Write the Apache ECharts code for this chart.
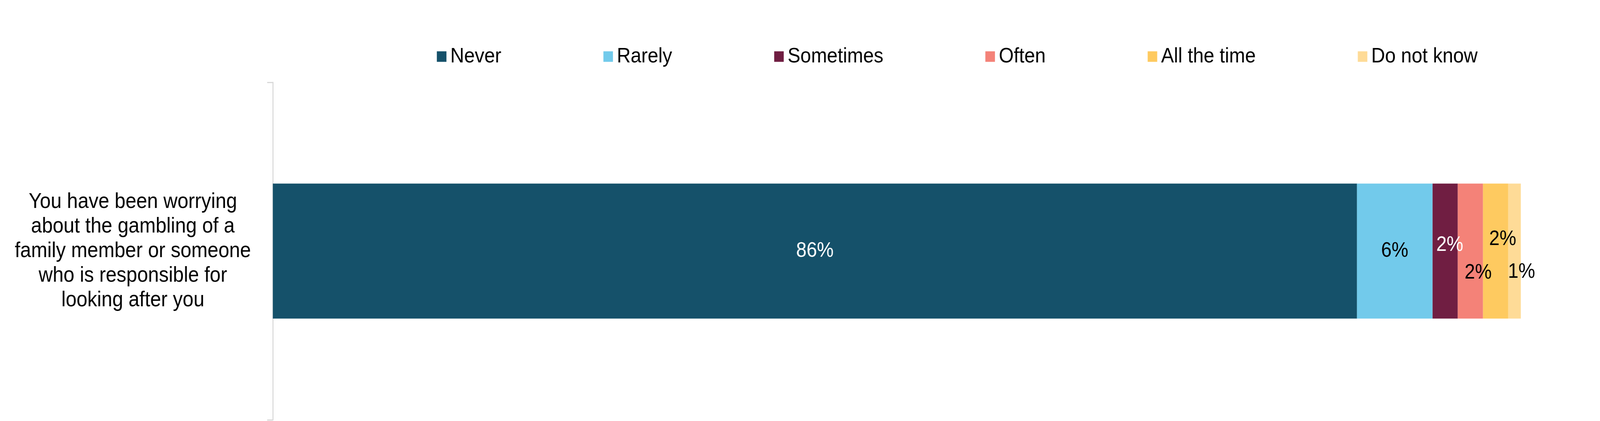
<!DOCTYPE html>
<html>
<head>
<meta charset="utf-8">
<script src="https://cdn.jsdelivr.net/npm/echarts@6/dist/echarts.min.js"></script>
<style>
html,body{margin:0;padding:0;background:#fff;overflow:hidden;}
#chart{width:4516px;height:1079px;transform-origin:0 0;}
</style>
</head>
<body>
<div id="chart"></div>
<script>
// ---- data ----
const categories = ["You have been worrying\nabout the gambling of a\nfamily member or someone\nwho is responsible for\nlooking after you"];
const seriesNames = ["Never", "Rarely", "Sometimes", "Often", "All the time", "Do not know"];
const never = [86];
const rarely = [6];
const sometimes = [2];
const often = [2];
const allTheTime = [2];
const doNotKnow = [1];

// ---- styles ----
const FONT = "'Liberation Sans', Arial, sans-serif";
const colors = ["#15516A", "#72CAEB", "#701E42", "#F48278", "#FECA60", "#FEDB97"];
const labelColors = ["#ffffff", "#000000", "#ffffff", "#000000", "#000000", "#000000"];
const labelOffsets = [[0, 0], [0, 0], [13, -15], [22, 56], [20, -30], [20, 54]];
const values = [never, rarely, sometimes, often, allTheTime, doNotKnow];

// fit the 4516x1079 design into the actual viewport
const el = document.getElementById('chart');
const sx = window.innerWidth / 4516;
const sy = window.innerHeight / 1079;
el.style.transform = 'scale(' + sx + ',' + sy + ')';

const chart = echarts.init(el, null, { width: 4516, height: 1079 });
chart.setOption({
  animation: false,
  backgroundColor: '#ffffff',
  color: colors,
  legend: {
    left: 1228, top: 113, icon: 'rect',
    itemWidth: 27, itemHeight: 27, itemGap: 288,
    data: seriesNames,
    textStyle: { fontFamily: FONT, fontSize: 54, color: '#000', padding: [0, 0, 0, 6] }
  },
  grid: { left: 770, right: 188, top: 211, bottom: 3, containLabel: false },
  xAxis: { type: 'value', min: 0, max: 100, show: false },
  yAxis: {
    type: 'category', data: categories, inverse: true,
    axisLine: { show: true, lineStyle: { color: '#D9D9D9', width: 3 } },
    axisTick: { show: true, length: 16, lineStyle: { color: '#D9D9D9', width: 3 } },
    axisLabel: { align: 'center', margin: 395, fontFamily: FONT, fontSize: 55, color: '#000', lineHeight: 63 }
  },
  series: seriesNames.map((name, i) => ({
    name: name, type: 'bar', stack: 'total', barWidth: 346, data: values[i],
    itemStyle: { color: colors[i] },
    label: {
      show: true, position: 'inside',
      offset: labelOffsets[i],
      formatter: p => p.value + '%',
      fontFamily: FONT, fontSize: 53, color: labelColors[i]
    }
  }))
});
</script>
</body>
</html>
